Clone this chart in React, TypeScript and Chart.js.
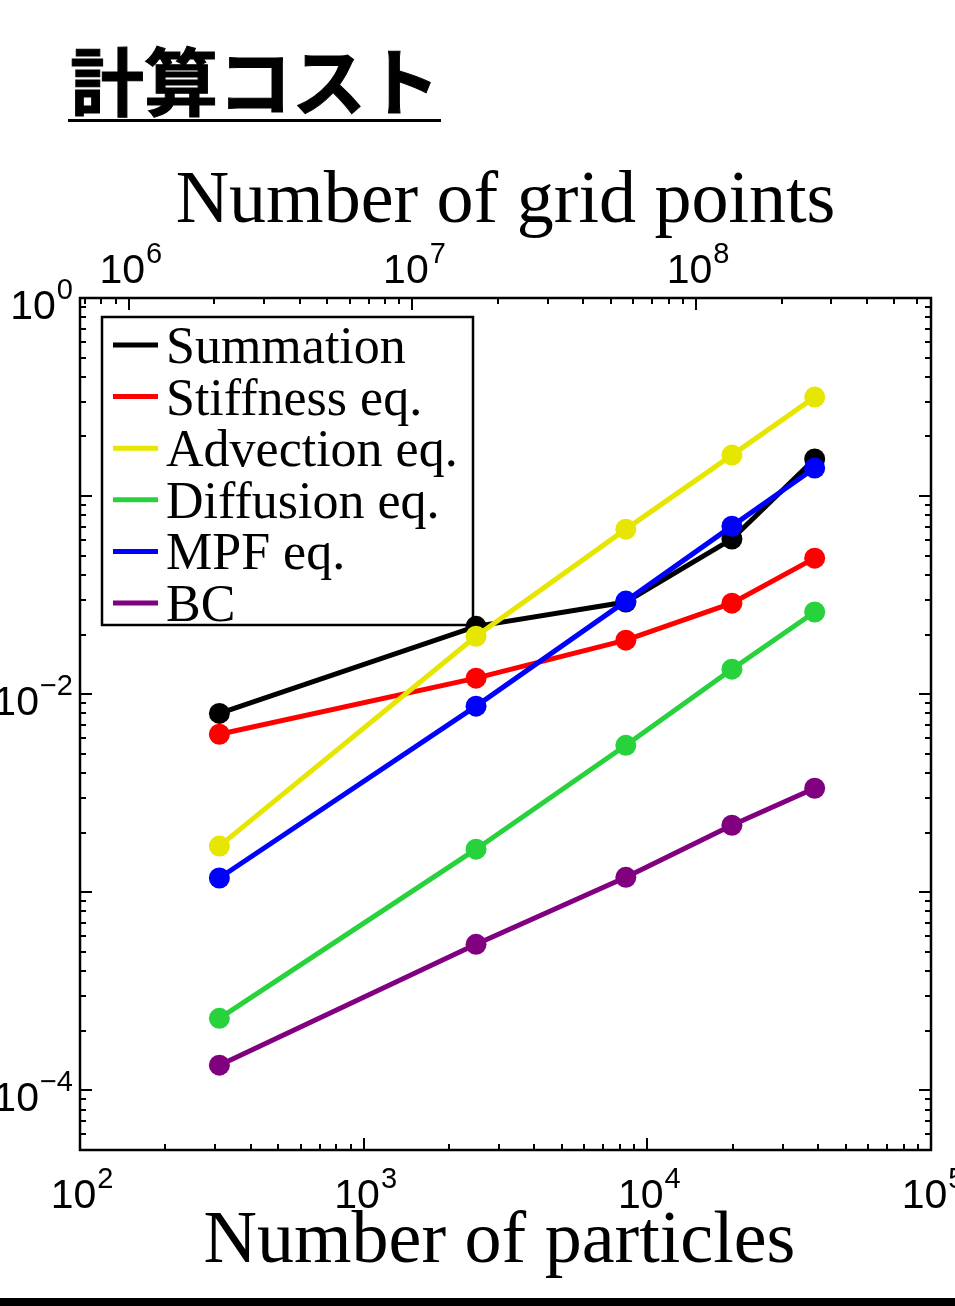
import React, { useEffect, useRef } from "react";
import { Chart, registerables } from "chart.js";

Chart.register(...registerables);

const particles = [310, 2490, 8400, 19870, 38900];

const seriesNames = ["Summation", "Stiffness eq.", "Advection eq.", "Diffusion eq.", "MPF eq.", "BC"];
const seriesColors = ["#000000", "#ff0000", "#e6e600", "#28d23c", "#0000ff", "#800080"];

const summation = [0.0080, 0.0220, 0.0292, 0.0607, 0.154];
const stiffness = [0.00628, 0.01205, 0.01874, 0.0288, 0.0486];
const advection = [0.00171, 0.0196, 0.0681, 0.161, 0.316];
const diffusion = [0.000231, 0.00165, 0.00552, 0.01337, 0.0260];
const mpf = [0.00118, 0.0087, 0.0295, 0.0705, 0.1385];
const bc = [0.000134, 0.000546, 0.00119, 0.00218, 0.00335];

const seriesValues = [summation, stiffness, advection, diffusion, mpf, bc];

const xTickExps = [2, 3, 4, 5];
const yTickExps = [-4, -2, 0];
const topTickExps = [6, 7, 8];

const titleText = "計算コスト";
const topTitle = "Number of grid points";
const bottomTitle = "Number of particles";

// grid points per particle (top axis offset)
const gridRatio = Math.pow(10, 3.828);

const SANS = '"Liberation Sans", Arial, sans-serif';
const SERIF = '"Liberation Serif", "Times New Roman", serif';

function drawPow(ctx: CanvasRenderingContext2D, exp: number, x: number, base: number, align: "right" | "center") {
  const expStr = exp < 0 ? "\u2212" + String(-exp) : String(exp);
  ctx.font = "41px " + SANS;
  const w1 = ctx.measureText("10").width;
  ctx.font = "29px " + SANS;
  const w2 = ctx.measureText(expStr).width;
  const total = w1 + w2 + 1;
  const start = align === "right" ? x - total : x - total / 2;
  ctx.fillStyle = "#000";
  ctx.textAlign = "left";
  ctx.textBaseline = "alphabetic";
  ctx.font = "41px " + SANS;
  ctx.fillText("10", start, base);
  ctx.font = "29px " + SANS;
  ctx.fillText(expStr, start + w1 + 1, base - 20);
}

const customPlugin = {
  id: "custom",
  beforeDraw(chart: any) {
    const ctx = chart.ctx as CanvasRenderingContext2D;
    ctx.save();
    ctx.fillStyle = "#fff";
    ctx.fillRect(0, 0, chart.width, chart.height);
    ctx.restore();
  },
  beforeDatasetsDraw(chart: any) {
    const ctx = chart.ctx as CanvasRenderingContext2D;
    const { left, right, top, bottom } = chart.chartArea;
    const xs = chart.scales.x;
    const ys = chart.scales.y;
    const x2 = chart.scales.x2;
    ctx.save();
    ctx.strokeStyle = "#000";
    ctx.lineWidth = 2;
    // left/right ticks
    for (let e = -6; e <= 1; e++) {
      for (let m = 1; m <= 9; m++) {
        const v = m * Math.pow(10, e);
        if (v < ys.min * 0.999 || v > ys.max * 1.001) continue;
        const p = Math.round(ys.getPixelForValue(v));
        const len = m === 1 ? 12 : 6;
        ctx.beginPath();
        ctx.moveTo(left, p);
        ctx.lineTo(left + len, p);
        ctx.moveTo(right, p);
        ctx.lineTo(right - len, p);
        ctx.stroke();
      }
    }
    // bottom ticks (particles)
    for (let e = 1; e <= 6; e++) {
      for (let m = 1; m <= 9; m++) {
        const v = m * Math.pow(10, e);
        if (v < xs.min * 0.999 || v > xs.max * 1.001) continue;
        const p = Math.round(xs.getPixelForValue(v));
        const len = m === 1 ? 12 : 6;
        ctx.beginPath();
        ctx.moveTo(p, bottom);
        ctx.lineTo(p, bottom - len);
        ctx.stroke();
      }
    }
    // top ticks (grid points)
    for (let e = 4; e <= 10; e++) {
      for (let m = 1; m <= 9; m++) {
        const v = m * Math.pow(10, e);
        if (v < x2.min * 0.999 || v > x2.max * 1.001) continue;
        const p = Math.round(x2.getPixelForValue(v));
        const len = m === 1 ? 12 : 6;
        ctx.beginPath();
        ctx.moveTo(p, top);
        ctx.lineTo(p, top + len);
        ctx.stroke();
      }
    }
    // frame
    ctx.lineWidth = 2.5;
    ctx.strokeRect(left, top, right - left, bottom - top);

    // legend
    const lx = 102, ly = 317, lw = 371, lh = 308;
    ctx.fillStyle = "#fff";
    ctx.fillRect(lx, ly, lw, lh);
    ctx.lineWidth = 2.5;
    ctx.strokeStyle = "#000";
    ctx.strokeRect(lx, ly, lw, lh);
    chart.data.datasets.forEach((ds: any, i: number) => {
      const ry = 345 + i * 51.6;
      ctx.strokeStyle = ds.borderColor;
      ctx.lineWidth = 5;
      ctx.beginPath();
      ctx.moveTo(113, ry);
      ctx.lineTo(158, ry);
      ctx.stroke();
      ctx.fillStyle = "#000";
      ctx.font = "52px " + SERIF;
      ctx.textAlign = "left";
      ctx.textBaseline = "alphabetic";
      ctx.fillText(ds.label, 166, ry + 18);
    });
    ctx.restore();
  },
  afterDraw(chart: any) {
    const ctx = chart.ctx as CanvasRenderingContext2D;
    const { left, right, top, bottom } = chart.chartArea;
    const xs = chart.scales.x;
    const ys = chart.scales.y;
    const x2 = chart.scales.x2;
    ctx.save();
    yTickExps.forEach((e) => {
      const p = ys.getPixelForValue(Math.pow(10, e));
      drawPow(ctx, e, 73, p + 21, "right");
    });
    xTickExps.forEach((e) => {
      const p = xs.getPixelForValue(Math.pow(10, e));
      drawPow(ctx, e, p + 2, bottom + 58, "center");
    });
    topTickExps.forEach((e) => {
      const p = x2.getPixelForValue(Math.pow(10, e));
      drawPow(ctx, e, p + 2, top - 15, "center");
    });
    ctx.fillStyle = "#000";
    ctx.textAlign = "center";
    ctx.textBaseline = "alphabetic";
    ctx.font = "74px " + SERIF;
    ctx.fillText(topTitle, (left + right) / 2, 222);
    ctx.fillText(bottomTitle, (left + right) / 2 - 6, 1262);

    // page title
    ctx.textAlign = "left";
    ctx.font = 'bold 74px "Noto Sans CJK JP", sans-serif';
    ctx.strokeStyle = "#000";
    ctx.lineWidth = 1;
    ctx.lineJoin = "miter";
    ctx.strokeText(titleText, 70, 110);
    ctx.fillText(titleText, 70, 110);
    ctx.fillRect(68, 119, 373, 3);

    // bottom bar
    ctx.fillRect(0, 1298, chart.width, 8);
    ctx.restore();
  },
};

export default function App() {
  const ref = useRef<HTMLCanvasElement | null>(null);
  useEffect(() => {
    if (!ref.current) return;
    const datasets = seriesNames.map((name, i) => ({
      label: name,
      data: particles.map((p, j) => ({ x: p, y: seriesValues[i][j] })),
      borderColor: seriesColors[i],
      backgroundColor: seriesColors[i],
      pointBackgroundColor: seriesColors[i],
      pointBorderWidth: 0,
      pointRadius: 10.5,
      borderWidth: 5,
      tension: 0,
      fill: false,
      order: seriesNames.length - i,
      clip: false as any,
    }));
    const chart = new Chart(ref.current, {
      type: "line",
      data: { datasets },
      options: {
        animation: false,
        responsive: false,
        devicePixelRatio: 1,
        layout: { padding: { left: 80, right: 24, top: 298, bottom: 156 } },
        plugins: { legend: { display: false }, tooltip: { enabled: false } },
        scales: {
          x: { type: "logarithmic", min: 100, max: 1e5, display: false },
          y: { type: "logarithmic", min: 5e-5, max: 1, display: false },
          x2: { type: "logarithmic", position: "top", min: 100 * gridRatio, max: 1e5 * gridRatio, display: false },
        },
      } as any,
      plugins: [customPlugin],
    });
    return () => chart.destroy();
  }, []);
  return (
    <div style={{ position: "absolute", left: 0, top: 0, width: 955, height: 1306, background: "#fff" }}>
      <canvas ref={ref} width={955} height={1306} style={{ display: "block" }} />
    </div>
  );
}
